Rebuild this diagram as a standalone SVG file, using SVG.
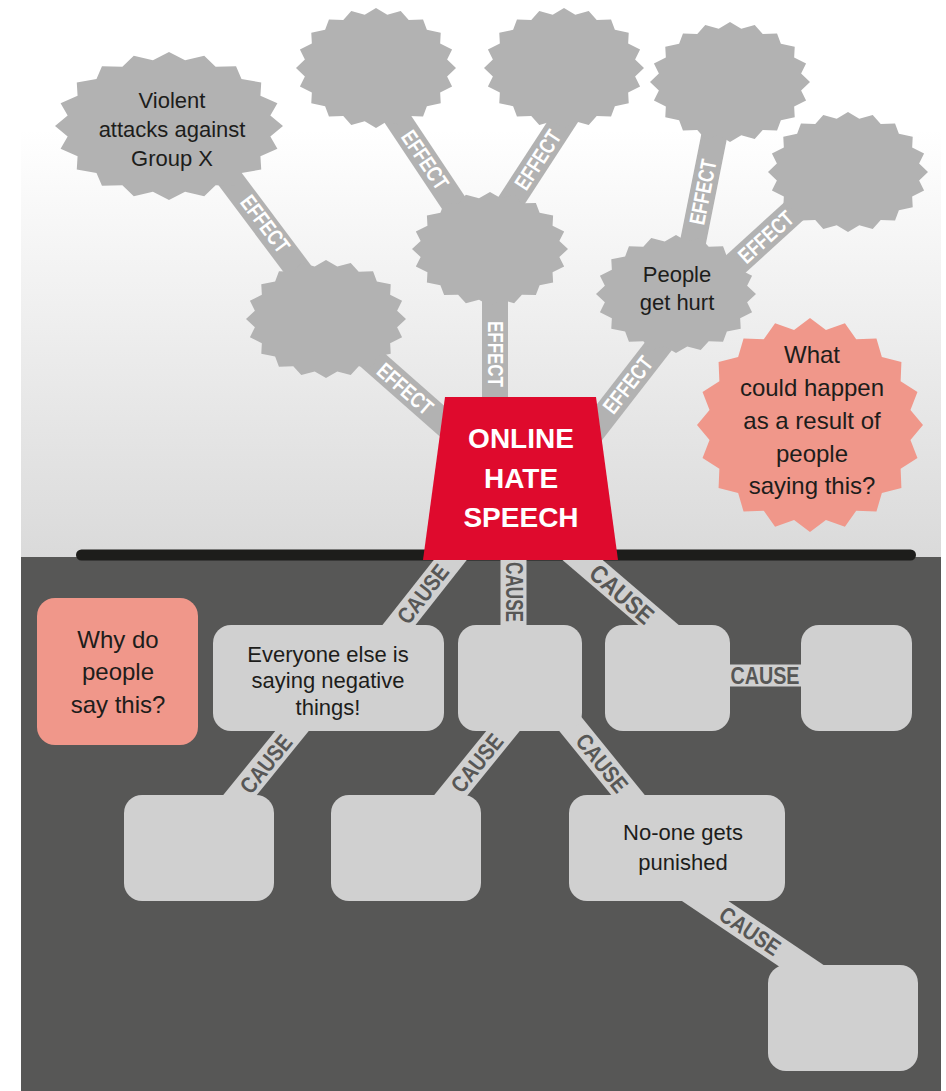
<svg xmlns="http://www.w3.org/2000/svg" width="946" height="1091" viewBox="0 0 946 1091">
<style>
.band-u{stroke:#b2b2b2;stroke-width:26;fill:none}
.band-l{stroke:#d0d0d0;stroke-width:26;fill:none}
.star{fill:#b2b2b2}
.box{fill:#d0d0d0}
.pink{fill:#f0978a}
.txt{font-family:"Liberation Sans",Arial,sans-serif;font-size:22px;fill:#1d1d1b;text-anchor:middle}
.big{font-size:24px}
.lu{font-family:"Liberation Sans",Arial,sans-serif;font-weight:bold;font-size:22px;fill:#ffffff;text-anchor:middle;dominant-baseline:central}
.ll{font-family:"Liberation Sans",Arial,sans-serif;font-weight:bold;font-size:23px;fill:#575756;text-anchor:middle;dominant-baseline:central}
.title{font-family:"Liberation Sans",Arial,sans-serif;font-weight:bold;font-size:28px;fill:#ffffff;text-anchor:middle}
</style>
<defs>
<linearGradient id="sky" gradientUnits="userSpaceOnUse" x1="0" y1="130" x2="0" y2="557">
<stop offset="0" stop-color="#ffffff"/>
<stop offset="1" stop-color="#dadada"/>
</linearGradient>
<polygon id="star" points="100,0 88.9,14.1 95.1,30.9 80.2,40.9 80.9,58.8 63.6,63.6 58.8,80.9 40.9,80.2 30.9,95.1 14.1,88.9 0,100 -14.1,88.9 -30.9,95.1 -40.9,80.2 -58.8,80.9 -63.6,63.6 -80.9,58.8 -80.2,40.9 -95.1,30.9 -88.9,14.1 -100,0 -88.9,-14.1 -95.1,-30.9 -80.2,-40.9 -80.9,-58.8 -63.6,-63.6 -58.8,-80.9 -40.9,-80.2 -30.9,-95.1 -14.1,-88.9 0,-100 14.1,-88.9 30.9,-95.1 40.9,-80.2 58.8,-80.9 63.6,-63.6 80.9,-58.8 80.2,-40.9 95.1,-30.9 88.9,-14.1"/>
</defs>

<g id="background">
<rect x="0" y="0" width="946" height="1091" fill="#ffffff"/>
<rect x="21" y="0" width="920" height="557" fill="url(#sky)"/>
<rect x="21" y="557" width="920" height="534" fill="#575756"/>
<rect x="76" y="549.5" width="840" height="11" rx="5.5" fill="#1d1d1b"/>
</g>

<g id="connectors">
<line class="band-u" x1="468" y1="444" x2="326" y2="319"/>
<line class="band-u" x1="197" y1="135" x2="332" y2="315"/>
<line class="band-u" x1="375" y1="85" x2="475" y2="235"/>
<line class="band-u" x1="495" y1="250" x2="495" y2="430"/>
<line class="band-u" x1="493" y1="229" x2="588" y2="83"/>
<line class="band-u" x1="685" y1="282" x2="723" y2="92"/>
<line class="band-u" x1="694" y1="302" x2="837" y2="172"/>
<line class="band-u" x1="560" y1="473" x2="685" y2="312"/>

<line class="band-l" x1="481" y1="521" x2="369" y2="663"/>
<line class="band-l" x1="513.5" y1="530" x2="513.5" y2="660"/>
<line class="band-l" x1="544" y1="527" x2="696" y2="657"/>
<line class="band-l" x1="700" y1="675.5" x2="830" y2="675.5" style="stroke-width:22"/>
<line class="band-l" x1="318" y1="699" x2="214" y2="827"/>
<line class="band-l" x1="529" y1="699" x2="425" y2="827"/>
<line class="band-l" x1="550" y1="699" x2="654" y2="827"/>
<line class="band-l" x1="674" y1="880" x2="833" y2="987"/>
</g>

<g id="star-A"><use href="#star" class="star" transform="translate(169,126) scale(1.14,0.74)"/>
<text class="txt" x="172" y="108">Violent</text><text class="txt" x="172" y="137">attacks against</text><text class="txt" x="172" y="166">Group X</text></g>
<g id="star-B"><use href="#star" class="star" transform="translate(376,68) scale(0.8,0.6)"/></g>
<g id="star-C"><use href="#star" class="star" transform="translate(490,249) scale(0.78,0.57)"/></g>
<g id="star-D"><use href="#star" class="star" transform="translate(326,319) scale(0.8,0.59)"/></g>
<g id="star-E"><use href="#star" class="star" transform="translate(564,68) scale(0.8,0.6)"/></g>
<g id="star-F"><use href="#star" class="star" transform="translate(730,82) scale(0.8,0.6)"/></g>
<g id="star-G"><use href="#star" class="star" transform="translate(848,172) scale(0.8,0.6)"/></g>
<g id="star-H"><use href="#star" class="star" transform="translate(676,294) scale(0.8,0.59)"/>
<text class="txt" x="677" y="282">People</text><text class="txt" x="677" y="310">get hurt</text></g>
<g id="star-question"><use href="#star" class="pink" transform="translate(810,425) scale(1.13,1.07)"/>
<text class="txt big" x="812" y="363">What</text><text class="txt big" x="812" y="396">could happen</text><text class="txt big" x="812" y="429">as a result of</text><text class="txt big" x="812" y="462">people</text><text class="txt big" x="812" y="494">saying this?</text></g>

<g id="box-why"><rect class="pink" x="37" y="598" width="161" height="147" rx="18"/>
<text class="txt big" x="118" y="648">Why do</text><text class="txt big" x="118" y="680">people</text><text class="txt big" x="118" y="713">say this?</text></g>
<g id="box-everyone"><rect class="box" x="213" y="625" width="231" height="106" rx="18"/>
<text class="txt" x="328" y="662">Everyone else is</text><text class="txt" x="328" y="688">saying negative</text><text class="txt" x="328" y="715">things!</text></g>
<g id="box-middle"><rect class="box" x="458" y="625" width="124" height="106" rx="18"/></g>
<g id="box-3"><rect class="box" x="605" y="625" width="125" height="106" rx="18"/></g>
<g id="box-4"><rect class="box" x="801" y="625" width="111" height="106" rx="18"/></g>
<g id="box-bl1"><rect class="box" x="124" y="795" width="150" height="106" rx="18"/></g>
<g id="box-bl2"><rect class="box" x="331" y="795" width="150" height="106" rx="18"/></g>
<g id="box-noone"><rect class="box" x="569" y="795" width="216" height="106" rx="18"/>
<text class="txt" x="683" y="840">No-one gets</text><text class="txt" x="683" y="870">punished</text></g>
<g id="box-last"><rect class="box" x="768" y="965" width="150" height="106" rx="18"/></g>

<g id="center">
<polygon points="445,397 596,397 618,560 423,560" fill="#df0a2d"/>
<text class="title" x="521" y="448">ONLINE</text>
<text class="title" x="521" y="488">HATE</text>
<text class="title" x="521" y="527">SPEECH</text>
</g>

<g id="connector-labels">
<text class="lu" transform="translate(405,389) rotate(41)" textLength="66" lengthAdjust="spacingAndGlyphs">EFFECT</text>
<text class="lu" transform="translate(265,224) rotate(53)" textLength="66" lengthAdjust="spacingAndGlyphs">EFFECT</text>
<text class="lu" transform="translate(425,160) rotate(56)" textLength="66" lengthAdjust="spacingAndGlyphs">EFFECT</text>
<text class="lu" transform="translate(495,354) rotate(90)" textLength="66" lengthAdjust="spacingAndGlyphs">EFFECT</text>
<text class="lu" transform="translate(538,160) rotate(-57)" textLength="66" lengthAdjust="spacingAndGlyphs">EFFECT</text>
<text class="lu" transform="translate(703,192) rotate(-79)" textLength="66" lengthAdjust="spacingAndGlyphs">EFFECT</text>
<text class="lu" transform="translate(766,237) rotate(-42)" textLength="66" lengthAdjust="spacingAndGlyphs">EFFECT</text>
<text class="lu" transform="translate(628,385) rotate(-52)" textLength="66" lengthAdjust="spacingAndGlyphs">EFFECT</text>

<text class="ll" transform="translate(423,594) rotate(-52)" textLength="68" lengthAdjust="spacingAndGlyphs">CAUSE</text>
<text class="ll" transform="translate(513.5,592) rotate(90)" textLength="60" lengthAdjust="spacingAndGlyphs">CAUSE</text>
<text class="ll" transform="translate(622,594) rotate(41)" textLength="76" lengthAdjust="spacingAndGlyphs" style="font-size:25px">CAUSE</text>
<text class="ll" x="765" y="676" textLength="69" lengthAdjust="spacingAndGlyphs">CAUSE</text>
<text class="ll" transform="translate(266,764) rotate(-51)" textLength="68" lengthAdjust="spacingAndGlyphs">CAUSE</text>
<text class="ll" transform="translate(477,763) rotate(-51)" textLength="68" lengthAdjust="spacingAndGlyphs">CAUSE</text>
<text class="ll" transform="translate(602,763) rotate(51)" textLength="68" lengthAdjust="spacingAndGlyphs">CAUSE</text>
<text class="ll" transform="translate(750,931) rotate(34)" textLength="68" lengthAdjust="spacingAndGlyphs">CAUSE</text>
</g>
</svg>
